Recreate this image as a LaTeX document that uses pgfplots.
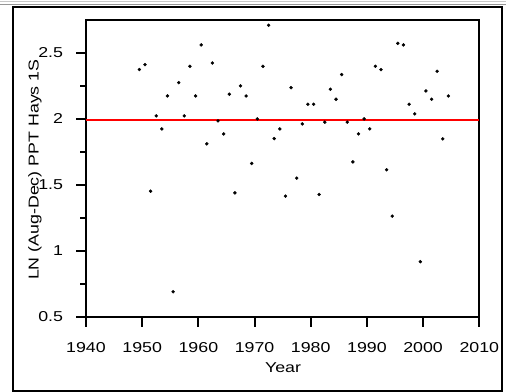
\documentclass[border=0pt]{standalone}
\usepackage{fontspec}
\setmainfont[FakeStretch=1.24]{Liberation Sans}
\usepackage{pgfplots}
\pgfplotsset{compat=1.18}
\definecolor{lgray}{RGB}{200,200,200}
\definecolor{mgray}{RGB}{150,150,150}
\newcommand{\lblfont}{\fontsize{14.4}{17}\selectfont}
\begin{document}
\begin{tikzpicture}
\useasboundingbox (0bp,0bp) rectangle (508bp,392bp);
\fill[white] (0bp,0bp) rectangle (508bp,392bp);
\draw[line width=1.3bp, lgray] (0bp,390.6bp) -- (506bp,390.6bp);
\draw[line width=1.3bp, mgray] (0bp,387.4bp) -- (506bp,387.4bp);
\draw[line width=2bp] (13bp,1.2bp) rectangle (502.3bp,385bp);
\begin{axis}[
  at={(86bp,75.3bp)}, anchor=south west,
  scale only axis, width=393.3bp, height=296.7bp,
  xmin=1940, xmax=2010, ymin=0.5, ymax=2.75,
  xtick={1940,1950,...,2010},
  ytick={0.5,1,1.5,2,2.5},
  minor ytick={0.75,1.25,1.75,2.25},
  xtick pos=left, ytick pos=left,
  tick align=outside,
  major tick length=10bp, minor tick length=6bp,
  axis background/.style={draw=black, line width=2.2bp},
  axis line style={line width=2.2bp, draw=black},
  every outer x axis line/.append style={line width=2.2bp},
  every outer y axis line/.append style={line width=2.2bp},
  every tick/.append style={line width=2bp, draw=black},
  every minor tick/.append style={line width=2bp, draw=black},
  xticklabels={1940,1950,1960,1970,1980,1990,2000,2010},
  yticklabels={0.5,1,1.5,2,2.5},
  tick label style={font=\lblfont},
  yticklabel style={anchor=east, inner sep=0pt, xshift=-12.8bp},
  xticklabel style={anchor=base, inner sep=0pt, yshift=-25.3bp},
  xlabel={Year},
  ylabel={LN (Aug-Dec) PPT Hays 1S},
  label style={font=\lblfont},
  xlabel style={at={(axis description cs:0.5009,-0.1887)}, anchor=base, inner sep=0pt},
  ylabel style={at={(axis description cs:-0.1297,0.4955)}, anchor=center, inner sep=0pt},
  clip=false,
]
\addplot[red, line width=2bp, mark=none, forget plot] coordinates {(1940,1.995) (2010,1.995)};
\addplot[only marks, mark=*, mark size=1.5bp, black] coordinates {
(1949.5,2.374) (1950.5,2.412) (1951.5,1.452) (1952.5,2.023) (1953.5,1.924)
(1954.5,2.174) (1955.5,0.689) (1956.5,2.275) (1957.5,2.023) (1958.5,2.399)
(1959.5,2.174) (1960.5,2.561) (1961.5,1.811) (1962.5,2.424) (1963.5,1.985)
(1964.5,1.886) (1965.5,2.187) (1966.5,1.439) (1967.5,2.250) (1968.5,2.174)
(1969.5,1.662) (1970.5,2.000) (1971.5,2.399) (1972.5,2.710) (1973.5,1.851)
(1974.5,1.924) (1975.5,1.414) (1976.5,2.237) (1977.5,1.551) (1978.5,1.962)
(1979.5,2.111) (1980.5,2.111) (1981.5,1.427) (1982.5,1.975) (1983.5,2.225)
(1984.5,2.149) (1985.5,2.336) (1986.5,1.975) (1987.5,1.674) (1988.5,1.886)
(1989.5,2.000) (1990.5,1.924) (1991.5,2.399) (1992.5,2.374) (1993.5,1.614)
(1994.5,1.263) (1995.5,2.573) (1996.5,2.561) (1997.5,2.111) (1998.5,2.038)
(1999.5,0.917) (2000.5,2.212) (2001.5,2.149) (2002.5,2.361) (2003.5,1.848)
(2004.5,2.174)
};
\end{axis}
\end{tikzpicture}
\end{document}
